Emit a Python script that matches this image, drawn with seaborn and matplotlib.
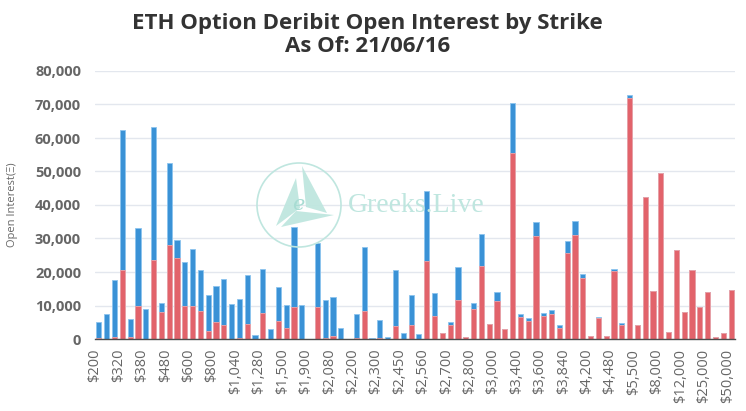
import matplotlib
matplotlib.use("Agg")
import matplotlib.pyplot as plt
import matplotlib.patches as mpatches
import seaborn as sns
import pandas as pd
import numpy as np

strikes = [200, 240, 280, 320, 340, 360, 380, 400, 440, 480, 500, 520, 600, 640,
           700, 800, 880, 960, 1040, 1120, 1200, 1280, 1360, 1440, 1500, 1600, 1700,
           1900, 2000, 2040, 2080, 2120, 2160, 2200, 2240, 2260, 2300, 2350, 2400,
           2450, 2500, 2520, 2560, 2600, 2640, 2700, 2720, 2760, 2800, 2880, 2900,
           3000, 3200, 3300, 3400, 3500, 3520, 3600, 3700, 3800, 3840, 4000, 4100,
           4200, 4300, 4400, 4480, 5000, 5200, 5500, 6000, 7000, 8000, 9000, 10000,
           12000, 15000, 20000, 25000, 30000, 40000, 50000]

calls_oi = [4600, 7500, 16950, 41800, 5300, 23000, 8900, 39700, 2700, 24440, 5460,
            12960, 16950, 11970, 10770, 10770, 13770, 10470, 11670, 14760, 1300,
            13170, 2900, 10170, 6780, 23840, 10170, 0, 18950, 11470, 11770, 3190, 0,
            7280, 18950, 300, 5290, 500, 16460, 1900, 8980, 1500, 20950, 6690, 0, 810,
            9880, 0, 1990, 9370, 0, 2590, 0, 14760, 900, 790, 4190, 700, 1000, 700,
            3490, 4190, 1200, 100, 300, 0, 600, 400, 900, 0, 0, 0, 0, 0, 0, 0, 0, 0,
            0, 0, 0, 0]

puts_oi = [400, 0, 700, 20650, 700, 10000, 0, 23650, 8000, 28130, 24140, 9980, 9980,
           8480, 2400, 5190, 4190, 0, 200, 4390, 0, 7680, 0, 5390, 3390, 9680, 0, 0,
           9680, 200, 900, 0, 0, 200, 8480, 0, 400, 0, 3990, 0, 4290, 0, 23240, 6980,
           1700, 4190, 11670, 500, 8880, 21850, 4390, 11470, 3090, 55560, 6480, 5390,
           30620, 6980, 7580, 3390, 25640, 31020, 18150, 900, 6180, 800, 20250, 4290,
           71920, 4290, 42290, 14360, 49580, 2000, 26430, 7980, 20650, 9580, 14060,
           600, 1800, 14660]

labels = [f"${s:,}" for s in strikes]
df = pd.DataFrame({"strike": labels, "calls": calls_oi, "puts": puts_oi})
df["total"] = df["calls"] + df["puts"]

BLUE = "#3a92d6"
RED = "#e2636b"
GRID = "#e3e7ee"
TXT = "#666666"

sns.set_theme(style="white")
plt.rcParams["font.family"] = ["Open Sans", "DejaVu Sans"]

W, H = 746, 411
fig = plt.figure(figsize=(W / 100, H / 100), dpi=100)
ax = fig.add_axes([95 / W, 1 - 339 / H, 640 / W, 268 / H])

sns.barplot(data=df, x="strike", y="total", order=labels, color=BLUE,
            saturation=1, width=0.66, ax=ax, edgecolor="#8cc4ee", linewidth=0.6)
sns.barplot(data=df, x="strike", y="puts", order=labels, color=RED,
            saturation=1, width=0.66, ax=ax, edgecolor="#f0a3a7", linewidth=0.6)

ax.set_xlim(-0.5, len(labels) - 0.5)
ax.set_ylim(0, 80000)
ax.set_yticks(np.arange(0, 80001, 10000))
ax.set_yticklabels([f"{v:,}" for v in range(0, 80001, 10000)],
                   fontsize=10.5, color=TXT, fontweight="bold")
ax.yaxis.grid(True, color=GRID, linewidth=1)
ax.set_axisbelow(True)
ax.tick_params(axis="y", length=0, pad=10)

tick_idx = list(range(0, len(labels), 3))
ax.set_xticks([i - 0.5 for i in tick_idx] + [len(labels) - 0.5])
ax.set_xticklabels([labels[i] for i in tick_idx] + [""], rotation=90,
                   fontsize=10.5, color=TXT)
ax.tick_params(axis="x", length=5, width=1, color="#4d4d4d", pad=2, direction="out")

for side in ["top", "right", "left"]:
    ax.spines[side].set_visible(False)
ax.spines["bottom"].set_color("#4d4d4d")
ax.spines["bottom"].set_linewidth(1)

ax.set_xlabel("")
ax.set_ylabel("Open Interest(Ξ)", fontsize=8, color=TXT)
ax.yaxis.set_label_coords(-0.12, 0.5)

fig.text(0.4926, 1 - 35 / H, "ETH Option Deribit Open Interest by Strike\nAs Of: 21/06/16",
         ha="center", va="center", fontsize=16, fontweight="bold", color="#333333",
         linespacing=1.08)

# watermark (pixel coords from top-left)
wm = "#bfe6df"


def P(x, y):
    return (x, H - y)


cx, cy, r = 299, 205, 42
fig.patches.append(mpatches.Circle(P(cx, cy), r, transform=None, fill=False,
                                   edgecolor=wm, linewidth=1.2, zorder=0.5))
sails = [
    [P(276, 226), P(296, 178), P(300, 208)],
    [P(302, 166), P(327, 213), P(306, 207)],
    [P(281, 227), P(334, 215), P(296, 211)],
]
for s in sails:
    fig.patches.append(mpatches.Polygon(s, closed=True, transform=None,
                                        facecolor=wm, edgecolor="none", alpha=0.95))
fig.text(298 / W, 1 - 205 / H, "e", fontsize=15, family="DejaVu Serif",
         style="italic", color="#a8dcd3", ha="center", va="center")
fig.text(348 / W, 1 - 205 / H, "Greeks.Live", fontsize=20, family="Liberation Serif",
         color=wm, ha="left", va="center")

fig.savefig("out.png", dpi=100)
